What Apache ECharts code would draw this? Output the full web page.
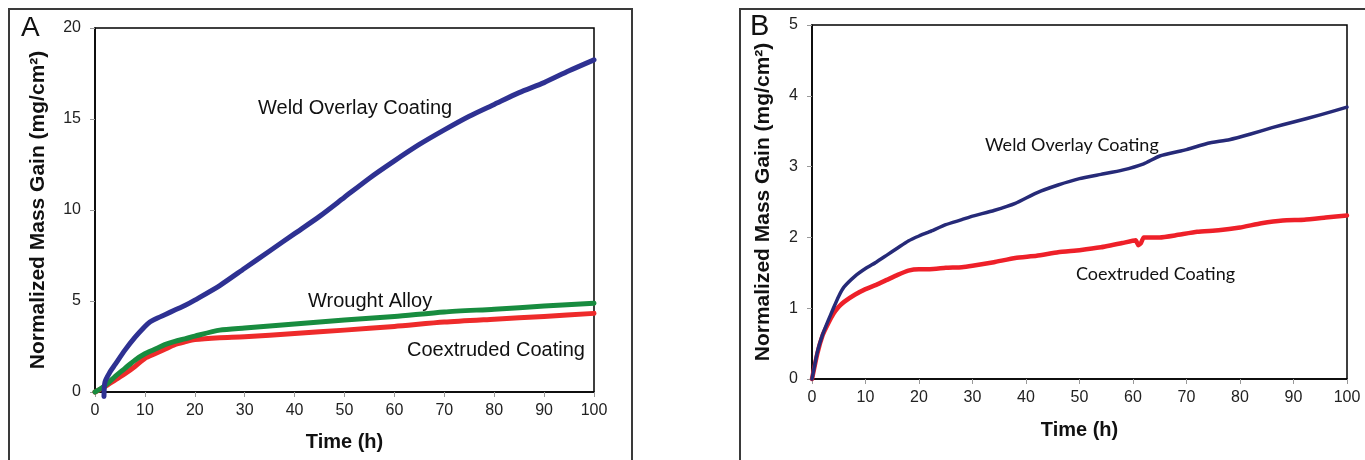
<!DOCTYPE html>
<html>
<head>
<meta charset="utf-8">
<script src="https://cdn.jsdelivr.net/npm/echarts@6/dist/echarts.min.js"></script>
<style>
  html, body { margin: 0; padding: 0; background: #fff; }
  #chart { width: 1365px; height: 460px; }
</style>
</head>
<body>
<div id="chart"></div>
<script>
// Panel A: mass gain over 100 h, three materials
const weldA_t = [1.8, 2, 3, 4, 6, 8, 10, 11, 12, 14, 16, 18, 20, 25, 30, 35, 40, 45, 50, 55, 60, 65, 70, 75, 80, 85, 90, 95, 100];
const weldA_v = [-0.25, 0.55, 1.1, 1.5, 2.3, 3.0, 3.6, 3.85, 4.0, 4.25, 4.5, 4.75, 5.05, 5.85, 6.8, 7.75, 8.7, 9.65, 10.7, 11.75, 12.7, 13.6, 14.4, 15.15, 15.8, 16.45, 17.0, 17.65, 18.25];

const alloyA_t = [0, 2, 4, 6, 8, 10, 12, 14, 16, 18, 20, 25, 30, 35, 40, 50, 60, 70, 80, 90, 100];
const alloyA_v = [0, 0.35, 0.85, 1.3, 1.75, 2.1, 2.35, 2.6, 2.78, 2.92, 3.07, 3.4, 3.52, 3.63, 3.73, 3.95, 4.15, 4.4, 4.55, 4.72, 4.88];

const coexA_t = [0, 2, 4, 6, 8, 10, 12, 14, 16, 18, 20, 25, 30, 40, 50, 60, 70, 80, 90, 100];
const coexA_v = [0, 0.3, 0.65, 1.0, 1.4, 1.85, 2.1, 2.35, 2.6, 2.75, 2.88, 2.98, 3.03, 3.22, 3.4, 3.6, 3.84, 4.0, 4.15, 4.32];

// Panel B: mass gain over 100 h, two coatings
const weldB_t = [0, 1, 2, 3, 4, 5, 6, 8, 10, 12, 14, 16, 18, 20, 22, 25, 28, 30, 34, 38, 42, 46, 50, 54, 58, 62, 65, 70, 74, 78, 82, 86, 90, 95, 100];
const weldB_v = [0, 0.38, 0.63, 0.82, 1.0, 1.17, 1.3, 1.45, 1.56, 1.65, 1.75, 1.85, 1.95, 2.02, 2.08, 2.18, 2.25, 2.3, 2.38, 2.48, 2.63, 2.74, 2.83, 2.89, 2.95, 3.04, 3.15, 3.24, 3.33, 3.38, 3.46, 3.55, 3.63, 3.73, 3.84];

const coexB_t = [0, 1, 2, 3, 4, 5, 6, 8, 10, 12, 14, 16, 18, 20, 22, 25, 28, 30, 34, 38, 42, 46, 50, 54, 58, 60.5, 61, 61.5, 62, 65, 68, 72, 76, 80, 84, 88, 92, 96, 100];
const coexB_v = [0, 0.36, 0.62, 0.78, 0.92, 1.02, 1.09, 1.19, 1.27, 1.33, 1.4, 1.47, 1.53, 1.55, 1.55, 1.57, 1.58, 1.6, 1.65, 1.71, 1.74, 1.79, 1.82, 1.86, 1.92, 1.96, 1.89, 1.92, 2.0, 2.0, 2.03, 2.08, 2.1, 2.14, 2.2, 2.24, 2.25, 2.28, 2.31];

// Axis ranges and tick spacing
const timeTicks = { min: 0, max: 100, interval: 10 };
const gainTicksA = { min: 0, max: 20, interval: 5 };
const gainTicksB = { min: 0, max: 5, interval: 1 };

const pairs = (t, v) => t.map((x, i) => [x, v[i]]);

const SANS = '"Liberation Sans", Arial, sans-serif';

function xAxisFor(gridIndex, nameGap) {
  return {
    type: 'value', gridIndex, ...timeTicks,
    name: 'Time (h)', nameLocation: 'middle', nameGap,
    nameTextStyle: { fontFamily: SANS, fontSize: 20, fontWeight: 'bold', color: '#111' },
    axisLine: { show: true, lineStyle: { color: '#000', width: 1.5 } },
    axisTick: { show: true, length: 5, lineStyle: { color: '#999' } },
    axisLabel: { fontFamily: SANS, fontSize: 16, color: '#222', margin: 11 },
    splitLine: { show: false }
  };
}

function yAxisFor(gridIndex, ticks, nameGap) {
  return {
    type: 'value', gridIndex, ...ticks,
    name: 'Normalized Mass Gain (mg/cm²)', nameLocation: 'middle', nameGap,
    nameTextStyle: { fontFamily: SANS, fontSize: 21, fontWeight: 'bold', color: '#111' },
    axisLine: { show: true, lineStyle: { color: '#000', width: 1.5 } },
    axisTick: { show: true, length: 5, lineStyle: { color: '#999' } },
    axisLabel: { fontFamily: SANS, fontSize: 16, color: '#222', margin: 14 },
    splitLine: { show: false }
  };
}

function lineSeries(name, xi, data, color, width, smooth) {
  return {
    name, type: 'line', xAxisIndex: xi, yAxisIndex: xi,
    data, showSymbol: false, symbol: 'none', smooth, clip: false,
    lineStyle: { color, width, cap: 'round', join: 'round' },
    emphasis: { disabled: true }, z: 3
  };
}

function note(text, x, y, size, family) {
  return {
    type: 'text', x, y, z: 10,
    style: { text, fontSize: size, fontFamily: family, fill: '#111', align: 'left', verticalAlign: 'middle' }
  };
}

const chart = echarts.init(document.getElementById('chart'), null, { renderer: 'canvas' });

chart.setOption({
  animation: false,
  backgroundColor: '#fff',
  grid: [
    { left: 95, top: 28, width: 499, height: 364, show: true, borderColor: '#000', borderWidth: 1.5, backgroundColor: 'transparent' },
    { left: 812, top: 25, width: 535, height: 354, show: true, borderColor: '#000', borderWidth: 1.5, backgroundColor: 'transparent' }
  ],
  xAxis: [xAxisFor(0, 40), xAxisFor(1, 41)],
  yAxis: [yAxisFor(0, gainTicksA, 46), yAxisFor(1, gainTicksB, 38)],
  series: [
    lineSeries('Coextruded Coating A', 0, pairs(coexA_t, coexA_v), '#EE2B2B', 5, 0.25),
    lineSeries('Wrought Alloy A', 0, pairs(alloyA_t, alloyA_v), '#188C3F', 5, 0.25),
    lineSeries('Weld Overlay Coating A', 0, pairs(weldA_t, weldA_v), '#2E3192', 5, 0.25),
    lineSeries('Coextruded Coating B', 1, pairs(coexB_t, coexB_v), '#EE2029', 4.5, 0.15),
    lineSeries('Weld Overlay Coating B', 1, pairs(weldB_t, weldB_v), '#262A78', 3.5, 0.15)
  ],
  graphic: [
    // panel frames
    { type: 'rect', shape: { x: 9, y: 9, width: 623, height: 470 }, style: { fill: 'none', stroke: '#3a3a3a', lineWidth: 2 }, z: 1 },
    { type: 'rect', shape: { x: 740, y: 9, width: 650, height: 470 }, style: { fill: 'none', stroke: '#3a3a3a', lineWidth: 2 }, z: 1 },
    // panel letters
    note('A', 21, 28, 28, SANS),
    note('B', 750, 27, 29, SANS),
    // curve labels, panel A
    note('Weld Overlay Coating', 258, 108, 20, SANS),
    note('Wrought Alloy', 308, 301, 20, SANS),
    note('Coextruded Coating', 407, 350.5, 20, SANS),
    // curve labels, panel B
    note('Weld Overlay Coating', 985, 145.5, 18, 'Lato, "Open Sans", sans-serif'),
    note('Coextruded Coating', 1076, 274, 18, 'Lato, "Open Sans", sans-serif')
  ]
});
</script>
</body>
</html>
